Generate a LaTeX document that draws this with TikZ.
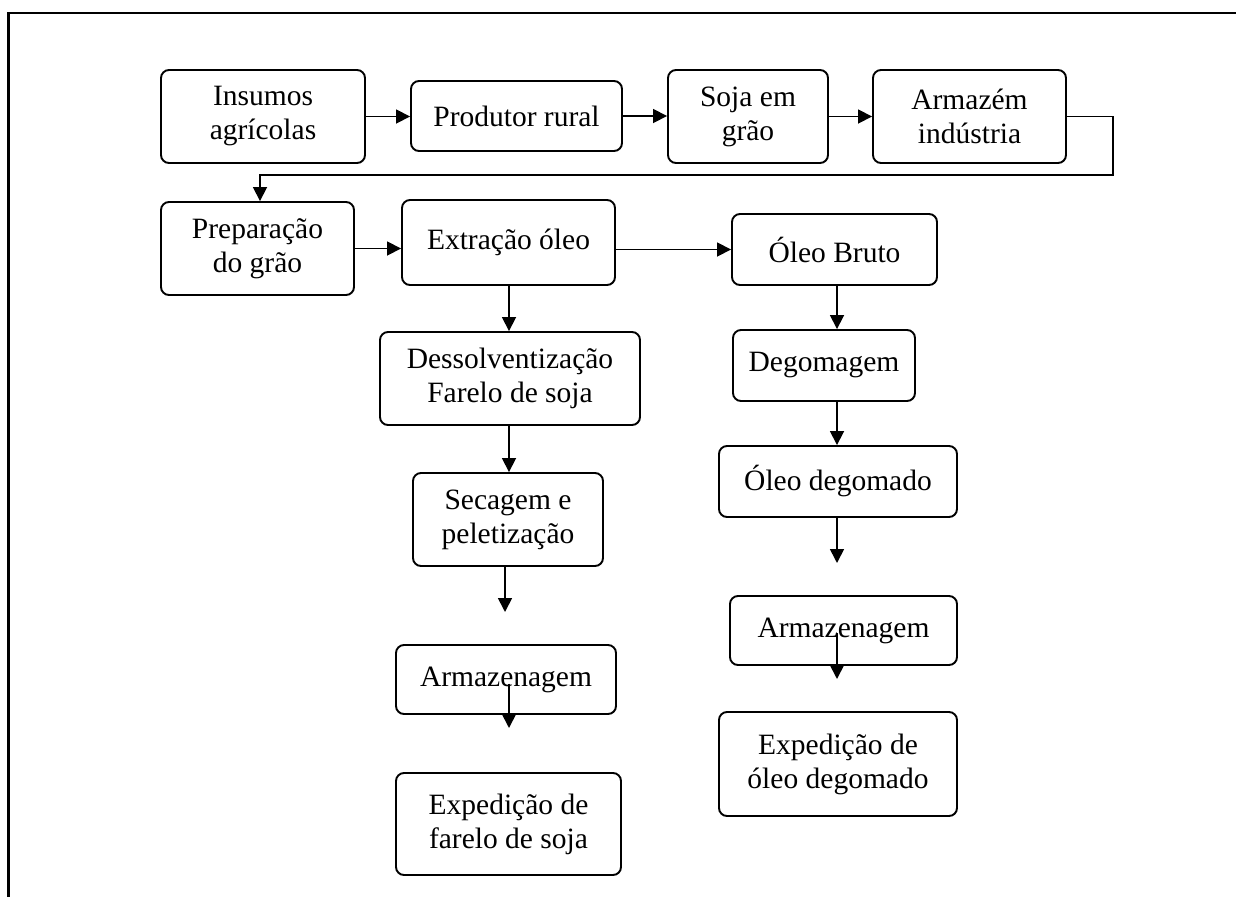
\documentclass[tikz,border=0pt]{standalone}
\usepackage{fontspec}
\setmainfont{Liberation Serif}
\usetikzlibrary{arrows.meta}
\begin{document}
\begin{tikzpicture}[x=1pt,y=-1pt,
  stagebox/.style={draw, rounded corners=8pt, line width=1.9pt, align=center,
    inner sep=0pt, font=\fontsize{29.5}{34}\selectfont},
  flow/.style={line width=1.7pt, -{Triangle[length=14pt,width=14pt]}},
  frameline/.style={line width=2.4pt}]
\useasboundingbox (0,0) rectangle (1236,897);

% partial frame (top and left edges)
\draw[frameline] (1236,13) -- (8.5,13) -- (8.5,897);

% first row
\node[stagebox, minimum width=204pt, minimum height=93pt] (ins)  at (263,116.5)   {Insumos\\agrícolas};
\node[stagebox, minimum width=211pt, minimum height=70pt] (prod) at (516.5,116)   {Produtor rural};
\node[stagebox, minimum width=160pt, minimum height=93pt] (soja) at (748,116.5)   {Soja em\\grão};
\node[stagebox, minimum width=193pt, minimum height=93pt] (armi) at (969.5,116.5) {Armazém\\indústria};

% second row
\node[stagebox, minimum width=193pt, minimum height=93pt] (prep)  at (257.5,248.5) {Preparação\\do grão};
\node[stagebox, minimum width=213pt, minimum height=85pt] (extr)  at (508.5,242.5) {Extração óleo};
\node[stagebox, minimum width=205pt, minimum height=71pt] (bruto) at (834.5,249.5) {Óleo Bruto};

% meal branch
\node[stagebox, minimum width=260pt, minimum height=93pt]  (dess) at (510,378.5) {Dessolventização\\Farelo de soja};
\node[stagebox, minimum width=190pt, minimum height=93pt]  (sec)  at (508,519.5) {Secagem e\\peletização};
\node[stagebox, minimum width=220pt, minimum height=69pt]  (armL) at (506,679.5) {Armazenagem};
\node[stagebox, minimum width=225pt, minimum height=102pt] (expL) at (508.5,824) {Expedição de\\farelo de soja};

% oil branch
\node[stagebox, minimum width=182pt, minimum height=71pt]  (deg)   at (824,365.5) {Degomagem};
\node[stagebox, minimum width=238pt, minimum height=71pt]  (oleod) at (838,481.5) {Óleo degomado};
\node[stagebox, minimum width=227pt, minimum height=69pt]  (armR)  at (843.5,630.5) {Armazenagem};
\node[stagebox, minimum width=238pt, minimum height=104pt] (expR)  at (838,764) {Expedição de\\óleo degomado};

% helper points
\coordinate (turn)  at (1113,175);
\coordinate (colL) at (509,0);
\coordinate (secEnd) at (505,612);
\coordinate (armLEnd) at (509,728);
\coordinate (colR) at (837,0);
\coordinate (oleodEnd) at (837,563);
\coordinate (armREnd) at (837,679);

% connectors
\draw[flow] (ins.east) -- (ins.east -| prod.west);
\draw[flow] (prod.east) -- (prod.east -| soja.west);
\draw[flow] (soja.east) -- (armi.west);
\draw[flow] (armi.east) -| (turn) -| ([xshift=2.5pt]prep.north);
\draw[flow] (prep.east) -- (prep.east -| extr.west);
\draw[flow] (bruto.west -| extr.east) -- (bruto.west);

\draw[flow] (extr.south -| colL) -- (dess.north -| colL);
\draw[flow] (dess.south -| colL) -- (sec.north -| colL);
\draw[flow] (sec.south -| secEnd) -- (secEnd);
\draw[flow] ([yshift=-4pt]armL.center -| armLEnd) -- (armLEnd);

\draw[flow] (bruto.south -| colR) -- (deg.north -| colR);
\draw[flow] (deg.south -| colR) -- (oleod.north -| colR);
\draw[flow] (oleod.south -| colR) -- (oleodEnd);
\draw[flow] ([yshift=-2.5pt]armR.center -| armREnd) -- (armREnd);
\end{tikzpicture}
\end{document}
